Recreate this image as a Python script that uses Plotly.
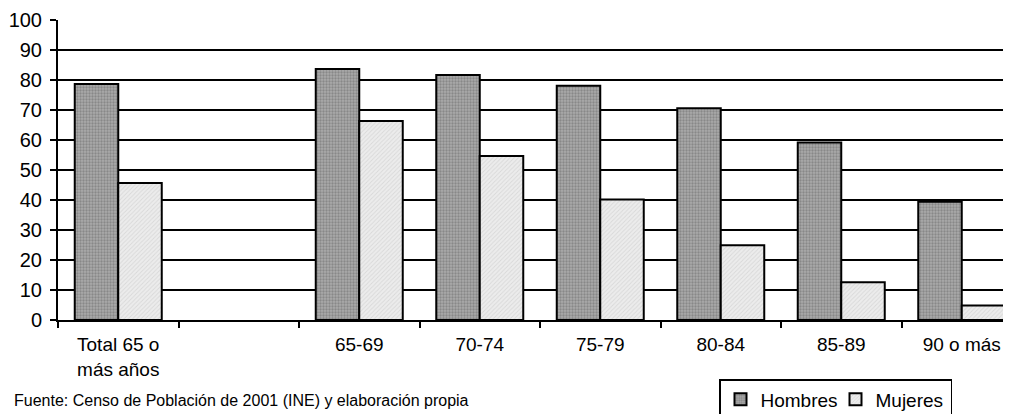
import plotly.graph_objects as go

categories = ["Total 65 o<br>más años", " ", "65-69", "70-74", "75-79", "80-84", "85-89", "90 o más"]
hombres = [78.7, None, 83.7, 81.7, 78.1, 70.6, 59.2, 39.4]
mujeres = [45.7, None, 66.3, 54.7, 40.2, 24.9, 12.6, 4.8]
y_ticks = [0, 10, 20, 30, 40, 50, 60, 70, 80, 90, 100]
source_text = "Fuente: Censo de Población de 2001 (INE) y elaboración propia"

FONT = "Liberation Sans, Arial, sans-serif"
OFF = 8  # default page body margin
W, H = 1011 - OFF, 414 - OFF
L, T = 58 - OFF, 20 - OFF
B = H - (320 - OFF)
plot_w = W - L
unit_px = 120.5

fig = go.Figure()
fig.add_trace(go.Bar(
    name="Hombres", x=categories, y=hombres,
    marker=dict(color="#aaaaaa", line=dict(color="black", width=2),
                pattern=dict(shape=".", fgcolor="#666666", bgcolor="#aaaaaa", size=3, solidity=0.45)),
))
fig.add_trace(go.Bar(
    name="Mujeres", x=categories, y=mujeres,
    marker=dict(color="#ececec", line=dict(color="black", width=2),
                pattern=dict(shape="/", fgcolor="#c4c4c4", bgcolor="#ececec", size=3, solidity=0.3)),
))

x_max = -0.5 + plot_w / unit_px

fig.update_layout(
    width=W, height=H,
    margin=dict(l=L, r=0, t=T, b=B, pad=0, autoexpand=False),
    paper_bgcolor="white", plot_bgcolor="white",
    barmode="group", bargap=0.278, bargroupgap=0,
    font=dict(family=FONT, color="black", size=16),
    showlegend=True,
    legend=dict(
        orientation="h", x=(719 - 58) / plot_w, y=(320 - 379) / 300,
        xanchor="left", yanchor="top",
        bordercolor="black", borderwidth=1.5, bgcolor="white",
        font=dict(family=FONT, size=19, color="black"),
        itemwidth=30, tracegroupgap=0,
        entrywidth=70, entrywidthmode="pixels",
    ),
    xaxis=dict(
        type="category", categoryorder="array", categoryarray=categories,
        range=[-0.5, x_max], tickson="boundaries", automargin=False,
        ticks="outside", ticklen=6, tickwidth=2, tickcolor="black",
        showline=True, linecolor="black", linewidth=2,
        showgrid=False, zeroline=False,
        tickfont=dict(family=FONT, size=19, color="black"),
        ticklabelstandoff=6,
    ),
    yaxis=dict(
        range=[0, 100], tickvals=y_ticks, ticktext=[str(v) for v in y_ticks],
        automargin=False,
        ticks="outside", ticklen=6, tickwidth=2, tickcolor="black",
        showline=True, linecolor="black", linewidth=2,
        showgrid=True, gridcolor="black", gridwidth=2,
        zeroline=False,
        tickfont=dict(family=FONT, size=20, color="black"),
        ticklabelstandoff=4,
    ),
    annotations=[dict(
        text=source_text, xref="paper", yref="paper",
        x=(12 - 58) / plot_w, y=(320 - 400) / 300,
        xanchor="left", yanchor="middle", showarrow=False,
        font=dict(family=FONT, size=16, color="black"),
    )],
)

fig.write_html("out.html")
